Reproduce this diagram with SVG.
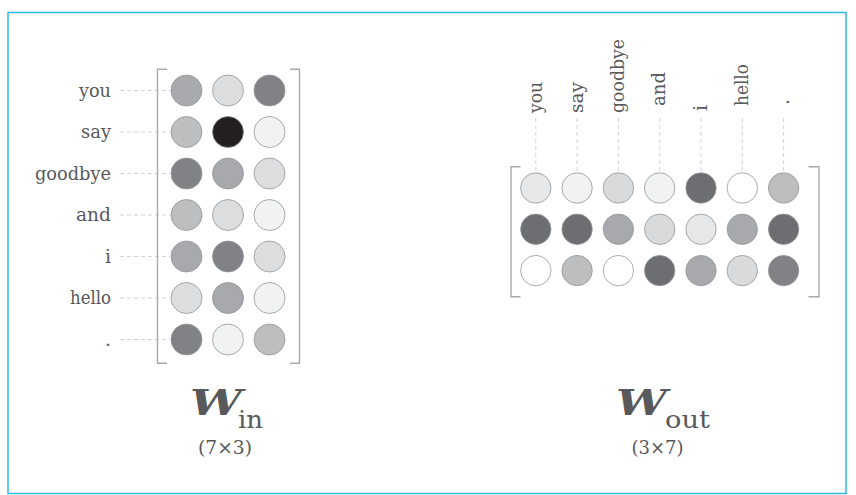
<svg xmlns="http://www.w3.org/2000/svg" width="856" height="495" viewBox="0 0 856 495">
<style>
.lbl{font-family:"DejaVu Serif","Liberation Serif",serif;font-size:19px;fill:#58595b}
.c{stroke:#939598;stroke-width:0.8}
.dash{stroke:#d1d3d4;stroke-width:1;stroke-dasharray:4 3;fill:none}
.br{stroke:#a7a9ac;stroke-width:1.4;fill:none}
.W{font-family:"DejaVu Serif","Liberation Serif",serif;font-weight:bold;font-style:italic;font-size:36px;fill:#58595b}
.sub{font-family:"DejaVu Serif","Liberation Serif",serif;font-size:25px;fill:#58595b}
.dim{font-family:"DejaVu Serif","Liberation Serif",serif;font-size:19px;fill:#58595b}
</style>
<rect x="8" y="12.5" width="838" height="481" fill="#ffffff" stroke="#2bbbef" stroke-width="1.5"/>

<g id="connectors">
  <line class="dash" x1="120" y1="90.5" x2="170" y2="90.5"/>
  <line class="dash" x1="120" y1="132" x2="170" y2="132"/>
  <line class="dash" x1="120" y1="173.5" x2="170" y2="173.5"/>
  <line class="dash" x1="120" y1="215" x2="170" y2="215"/>
  <line class="dash" x1="120" y1="256.5" x2="170" y2="256.5"/>
  <line class="dash" x1="120" y1="298" x2="170" y2="298"/>
  <line class="dash" x1="120" y1="339.5" x2="170" y2="339.5"/>
  <line class="dash" x1="535.8" y1="118" x2="535.8" y2="172"/>
  <line class="dash" x1="577.1" y1="118" x2="577.1" y2="172"/>
  <line class="dash" x1="618.4" y1="118" x2="618.4" y2="172"/>
  <line class="dash" x1="659.7" y1="118" x2="659.7" y2="172"/>
  <line class="dash" x1="701" y1="118" x2="701" y2="172"/>
  <line class="dash" x1="742.3" y1="118" x2="742.3" y2="172"/>
  <line class="dash" x1="783.6" y1="118" x2="783.6" y2="172"/>
</g>

<g id="win-labels">
  <text class="lbl" x="111" y="96.5" text-anchor="end" textLength="32" lengthAdjust="spacingAndGlyphs">you</text>
  <text class="lbl" x="111" y="138" text-anchor="end" textLength="30" lengthAdjust="spacingAndGlyphs">say</text>
  <text class="lbl" x="111" y="179.5" text-anchor="end" textLength="76" lengthAdjust="spacingAndGlyphs">goodbye</text>
  <text class="lbl" x="111" y="221" text-anchor="end" textLength="35" lengthAdjust="spacingAndGlyphs">and</text>
  <text class="lbl" x="111" y="262.5" text-anchor="end">i</text>
  <text class="lbl" x="111" y="304" text-anchor="end" textLength="41" lengthAdjust="spacingAndGlyphs">hello</text>
  <text class="lbl" x="111" y="345.5" text-anchor="end">.</text>
</g>

<g id="win-matrix">
  <path class="br" d="M167 69.3 H157.5 V363.3 H167"/>
  <path class="br" d="M290 69.3 H299.5 V363.3 H290"/>
  <circle class="c" cx="186.5" cy="90.5" r="15.5" fill="#a7a9ac"/>
  <circle class="c" cx="228" cy="90.5" r="15.5" fill="#dcddde"/>
  <circle class="c" cx="269.5" cy="90.5" r="15.5" fill="#808285"/>
  <circle class="c" cx="186.5" cy="132" r="15.5" fill="#bcbec0"/>
  <circle class="c" cx="228" cy="132" r="15.5" fill="#231f20"/>
  <circle class="c" cx="269.5" cy="132" r="15.5" fill="#f1f2f2"/>
  <circle class="c" cx="186.5" cy="173.5" r="15.5" fill="#808285"/>
  <circle class="c" cx="228" cy="173.5" r="15.5" fill="#a7a9ac"/>
  <circle class="c" cx="269.5" cy="173.5" r="15.5" fill="#dcddde"/>
  <circle class="c" cx="186.5" cy="215" r="15.5" fill="#bcbec0"/>
  <circle class="c" cx="228" cy="215" r="15.5" fill="#dcddde"/>
  <circle class="c" cx="269.5" cy="215" r="15.5" fill="#f1f2f2"/>
  <circle class="c" cx="186.5" cy="256.5" r="15.5" fill="#a7a9ac"/>
  <circle class="c" cx="228" cy="256.5" r="15.5" fill="#808285"/>
  <circle class="c" cx="269.5" cy="256.5" r="15.5" fill="#dcddde"/>
  <circle class="c" cx="186.5" cy="298" r="15.5" fill="#dcddde"/>
  <circle class="c" cx="228" cy="298" r="15.5" fill="#a7a9ac"/>
  <circle class="c" cx="269.5" cy="298" r="15.5" fill="#f1f2f2"/>
  <circle class="c" cx="186.5" cy="339.5" r="15.5" fill="#808285"/>
  <circle class="c" cx="228" cy="339.5" r="15.5" fill="#f1f2f2"/>
  <circle class="c" cx="269.5" cy="339.5" r="15.5" fill="#bcbec0"/>
</g>

<g id="wout-labels">
  <text class="lbl" transform="translate(541.5,113) rotate(-90)" textLength="31" lengthAdjust="spacingAndGlyphs">you</text>
  <text class="lbl" transform="translate(582.8,113) rotate(-90)" textLength="31" lengthAdjust="spacingAndGlyphs">say</text>
  <text class="lbl" transform="translate(624.1,113) rotate(-90)" textLength="74" lengthAdjust="spacingAndGlyphs">goodbye</text>
  <text class="lbl" transform="translate(665.4,106) rotate(-90)" textLength="34" lengthAdjust="spacingAndGlyphs">and</text>
  <text class="lbl" transform="translate(706.7,111) rotate(-90)">i</text>
  <text class="lbl" transform="translate(748,106) rotate(-90)" textLength="42" lengthAdjust="spacingAndGlyphs">hello</text>
  <text class="lbl" transform="translate(789,105) rotate(-90)">.</text>
</g>

<g id="wout-matrix">
  <path class="br" d="M520.5 166.7 H511 V296.7 H520.5"/>
  <path class="br" d="M808.5 166.7 H819 V296.7 H808.5"/>
  <circle class="c" cx="535.8" cy="188" r="15.2" fill="#e6e7e8"/>
  <circle class="c" cx="577.1" cy="188" r="15.2" fill="#f1f2f2"/>
  <circle class="c" cx="618.4" cy="188" r="15.2" fill="#d9dadc"/>
  <circle class="c" cx="659.7" cy="188" r="15.2" fill="#f1f2f2"/>
  <circle class="c" cx="701" cy="188" r="15.2" fill="#6d6e71"/>
  <circle class="c" cx="742.3" cy="188" r="15.2" fill="#ffffff"/>
  <circle class="c" cx="783.6" cy="188" r="15.2" fill="#bcbec0"/>
  <circle class="c" cx="535.8" cy="229.3" r="15.2" fill="#6d6e71"/>
  <circle class="c" cx="577.1" cy="229.3" r="15.2" fill="#6d6e71"/>
  <circle class="c" cx="618.4" cy="229.3" r="15.2" fill="#a7a9ac"/>
  <circle class="c" cx="659.7" cy="229.3" r="15.2" fill="#d9dadc"/>
  <circle class="c" cx="701" cy="229.3" r="15.2" fill="#e6e7e8"/>
  <circle class="c" cx="742.3" cy="229.3" r="15.2" fill="#a7a9ac"/>
  <circle class="c" cx="783.6" cy="229.3" r="15.2" fill="#6d6e71"/>
  <circle class="c" cx="535.8" cy="270.6" r="15.2" fill="#ffffff"/>
  <circle class="c" cx="577.1" cy="270.6" r="15.2" fill="#bcbec0"/>
  <circle class="c" cx="618.4" cy="270.6" r="15.2" fill="#ffffff"/>
  <circle class="c" cx="659.7" cy="270.6" r="15.2" fill="#6d6e71"/>
  <circle class="c" cx="701" cy="270.6" r="15.2" fill="#a7a9ac"/>
  <circle class="c" cx="742.3" cy="270.6" r="15.2" fill="#d9dadc"/>
  <circle class="c" cx="783.6" cy="270.6" r="15.2" fill="#808285"/>
</g>

<g id="title-win">
  <text class="W" x="190" y="415" textLength="52" lengthAdjust="spacingAndGlyphs">W</text>
  <text class="sub" x="238" y="428" textLength="25" lengthAdjust="spacingAndGlyphs">in</text>
  <text class="dim" x="225" y="454" text-anchor="middle" textLength="54" lengthAdjust="spacingAndGlyphs">(7×3)</text>
</g>
<g id="title-wout">
  <text class="W" x="616" y="415" textLength="51" lengthAdjust="spacingAndGlyphs">W</text>
  <text class="sub" x="665" y="428" textLength="45" lengthAdjust="spacingAndGlyphs">out</text>
  <text class="dim" x="657.5" y="454" text-anchor="middle" textLength="52" lengthAdjust="spacingAndGlyphs">(3×7)</text>
</g>
</svg>
